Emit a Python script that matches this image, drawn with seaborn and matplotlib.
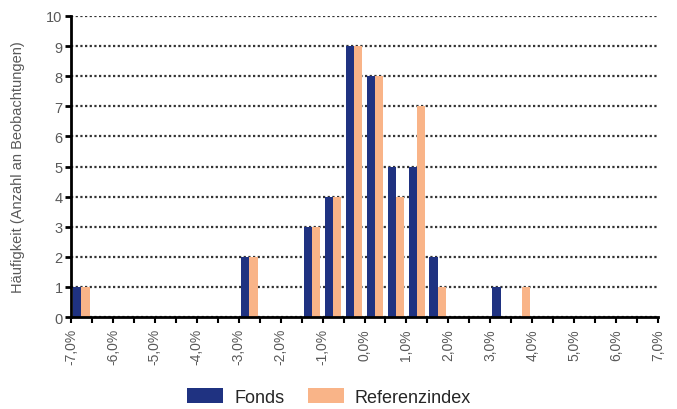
import numpy as np
import pandas as pd
import seaborn as sns
import matplotlib.pyplot as plt
from matplotlib.patches import Patch

# Histogram bins (lower edge of each 0.5% class)
bin_edges = [-7.0, -6.5, -6.0, -5.5, -5.0, -4.5, -4.0, -3.5, -3.0, -2.5,
             -2.0, -1.5, -1.0, -0.5, 0.0, 0.5, 1.0, 1.5, 2.0, 2.5,
             3.0, 3.5, 4.0, 4.5, 5.0, 5.5, 6.0, 6.5]
fonds = [1, 0, 0, 0, 0, 0, 0, 0, 2, 0, 0, 3, 4, 9, 8, 5, 5, 2, 0, 0,
         1, 0, 0, 0, 0, 0, 0, 0]
referenz = [1, 0, 0, 0, 0, 0, 0, 0, 2, 0, 0, 3, 4, 9, 8, 4, 7, 1, 0, 0,
            0, 1, 0, 0, 0, 0, 0, 0]
pct_labels = ["-7,0%", "-6,0%", "-5,0%", "-4,0%", "-3,0%", "-2,0%", "-1,0%",
              "0,0%", "1,0%", "2,0%", "3,0%", "4,0%", "5,0%", "6,0%", "7,0%"]
series_names = ["Fonds", "Referenzindex"]
colors = ["#1f3281", "#f9b488"]

df = pd.DataFrame({
    'bin': [str(b) for b in bin_edges] * 2,
    'serie': [series_names[0]] * len(fonds) + [series_names[1]] * len(referenz),
    'anzahl': fonds + referenz,
})

sns.set_style('white')
plt.rcParams['font.family'] = ['Liberation Sans', 'DejaVu Sans']

fig = plt.figure(figsize=(6.77, 4.10), dpi=100)
ax = fig.add_axes([71 / 677, 1 - 318 / 410, 587 / 677, 301 / 410])

sns.barplot(data=df, x='bin', y='anzahl', hue='serie',
            order=[str(b) for b in bin_edges], hue_order=series_names,
            palette=colors, saturation=1, width=0.8, legend=False,
            linewidth=0, edgecolor='none', ax=ax)

# dotted horizontal grid
ax.set_axisbelow(True)
ax.yaxis.grid(True, color='#333333', linewidth=1.6, linestyle=(0, (1, 1.1)))
ax.xaxis.grid(False)

ax.set_ylim(0, 10)
ax.set_yticks(range(0, 11))
ax.set_xlim(-0.5, len(bin_edges) - 0.5)
n = len(bin_edges)
ax.set_xticks(np.arange(-0.5, n, 2), pct_labels)
ax.set_xticks(np.arange(0.5, n, 2), minor=True)

for s in ['top', 'right']:
    ax.spines[s].set_visible(False)
for s in ['left', 'bottom']:
    ax.spines[s].set_color('black')
    ax.spines[s].set_linewidth(2)

ax.tick_params(axis='y', which='major', direction='out', length=4, width=2,
               color='black', labelsize=10.5, labelcolor='#595959', pad=2, left=True)
ax.tick_params(axis='x', which='both', direction='out', length=4, width=1.5,
               color='black', bottom=True)
ax.tick_params(axis='x', which='major', labelsize=10, labelcolor='#595959',
               labelrotation=90, pad=4)

ax.set_xlabel('')
ax.set_ylabel('Häufigkeit (Anzahl an Beobachtungen)', fontsize=10.5, color='#595959')
ax.yaxis.set_label_coords(-46 / 587, 0.5)

handles = [Patch(facecolor=c, edgecolor='none') for c in colors]
fig.legend(handles, series_names, loc='center', bbox_to_anchor=(329 / 677, 1 - 398 / 410),
           ncol=2, frameon=False, fontsize=13, handlelength=2.0, handleheight=0.85,
           handletextpad=0.6, columnspacing=1.3)

plt.savefig('out.png', dpi=100)
